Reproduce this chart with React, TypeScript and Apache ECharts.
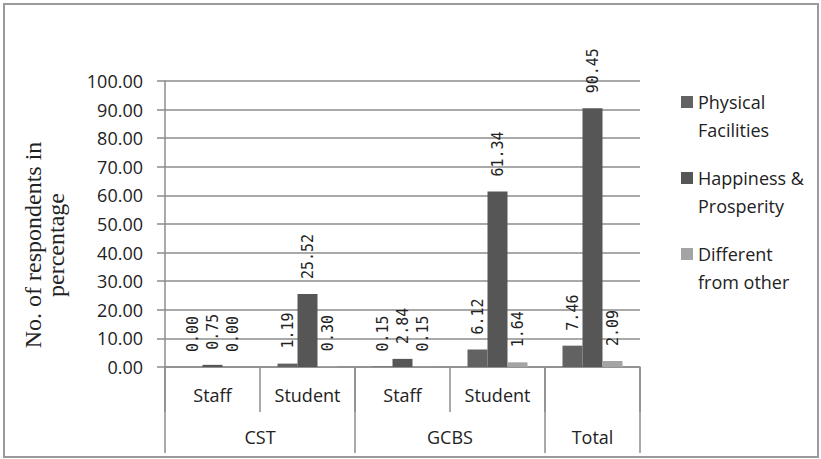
import React, { useEffect, useRef } from "react";
import * as echarts from "echarts";

const subCategories = ["Staff", "Student", "Staff", "Student", ""];
const groupLabels = ["", "", "CST", "", "", "", "GCBS", "", "", "Total", ""];
const groupTickIdx = [0, 4, 8, 10];
const yTicks = { min: 0, max: 100, interval: 10 };

const physical = [0.0, 1.19, 0.15, 6.12, 7.46];
const happiness = [0.75, 25.52, 2.84, 61.34, 90.45];
const different = [0.0, 0.3, 0.15, 1.64, 2.09];

const seriesNames = ["Physical\nFacilities", "Happiness &\nProsperity", "Different\nfrom other"];
const colors = ["#626262", "#565656", "#a4a4a4"];

const SANS = "'Open Sans', 'Liberation Sans', sans-serif";

export default function App() {
  const ref = useRef<HTMLDivElement>(null);
  useEffect(() => {
    if (!ref.current) return;
    const chart = echarts.init(ref.current, null, { renderer: "svg" });
    const label = {
      show: true,
      position: "top",
      rotate: 90,
      align: "left",
      verticalAlign: "middle",
      distance: 15,
      fontFamily: "'DejaVu Sans Mono', monospace",
      fontSize: 15,
      color: "#222",
      formatter: (p: any) => Number(p.value).toFixed(2),
    };
    const mk = (i: number, data: number[]) => ({
      name: seriesNames[i],
      type: "bar",
      data,
      xAxisIndex: 0,
      barWidth: 20,
      barGap: "0%",
      itemStyle: { color: colors[i] },
      label,
    });
    chart.setOption({
      animation: false,
      backgroundColor: "#fff",
      grid: {
        left: 165,
        right: 181,
        top: 81,
        bottom: 92,
        containLabel: false,
        outerBoundsMode: "none",
      },
      legend: {
        orient: "vertical",
        left: 676,
        top: 55,
        itemGap: -8,
        itemWidth: 12,
        itemHeight: 12,
        icon: "rect",
        data: seriesNames,
        formatter: (name: string) => "\n" + name,
        textStyle: {
          fontFamily: SANS,
          fontSize: 18,
          color: "#222",
          lineHeight: 28,
        },
      },
      xAxis: [
        {
          type: "category",
          position: "bottom",
          data: subCategories,
          axisLine: { show: true, lineStyle: { color: "#8c8c8c", width: 1.5 } },
          axisTick: { show: true, interval: 0, length: 45, lineStyle: { color: "#8c8c8c", width: 1.5 } },
          axisLabel: { interval: 0, margin: 19, fontFamily: SANS, fontSize: 18, color: "#222" },
        },
        {
          type: "category",
          position: "bottom",
          offset: 0,
          boundaryGap: false,
          data: groupLabels,
          axisLine: { show: false },
          axisTick: {
            show: true,
            length: 86,
            interval: (idx: number) => groupTickIdx.includes(idx),
            lineStyle: { color: "#8c8c8c", width: 1.5 },
          },
          axisLabel: {
            interval: (_idx: number, v: string) => v !== "",
            margin: 61,
            fontFamily: SANS,
            fontSize: 18,
            color: "#222",
          },
        },
      ],
      yAxis: {
        type: "value",
        min: yTicks.min,
        max: yTicks.max,
        interval: yTicks.interval,
        name: "No. of respondents in\npercentage",
        nameLocation: "middle",
        nameGap: 98,
        nameRotate: 90,
        nameTextStyle: {
          fontFamily: "'Liberation Serif', 'Times New Roman', serif",
          fontSize: 24,
          lineHeight: 23,
          color: "#222",
          padding: [0, 42, 0, 0],
        },
        axisLine: { show: true, lineStyle: { color: "#8c8c8c", width: 1.5 } },
        axisTick: { show: true, length: 8, lineStyle: { color: "#8c8c8c", width: 1.5 } },
        splitLine: { show: true, lineStyle: { color: "#8c8c8c", width: 1.5 } },
        axisLabel: {
          margin: 22,
          fontFamily: SANS,
          fontSize: 18,
          color: "#222",
          formatter: (v: number) => v.toFixed(2),
        },
      },
      graphic: [
        {
          type: "rect",
          shape: { x: 4, y: 4, width: 814, height: 453 },
          style: { fill: "none", stroke: "#9a9a9a", lineWidth: 2 },
          silent: true,
        },
      ],
      series: [mk(0, physical), mk(1, happiness), mk(2, different)],
    });
    return () => chart.dispose();
  }, []);
  return (
    <div
      ref={ref}
      style={{ position: "absolute", left: 0, top: 0, width: 821, height: 459 }}
    />
  );
}
